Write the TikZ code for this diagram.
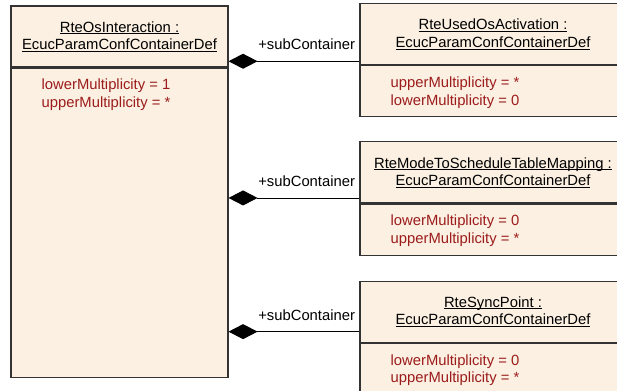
\documentclass[tikz,border=0pt]{standalone}
\usepackage{fontspec}
\setmainfont{Liberation Sans}
\usetikzlibrary{positioning, arrows.meta, calc}
\definecolor{classfill}{HTML}{FBF0E2}
\definecolor{classline}{HTML}{333333}
\definecolor{attrred}{HTML}{9C1C1C}
\newcommand{\classtitle}[1]{\underline{\raisebox{0pt}[\height][0pt]{#1}}}

\begin{document}
\begin{tikzpicture}[
    x=1pt, y=1pt,
    font=\fontsize{14.8}{17.5}\selectfont,
    node distance=24pt,
    classhead/.style={
      rectangle, draw=classline, line width=1.1pt,
      fill=classfill, align=center,
      minimum height=61pt, inner sep=0pt
    },
    classbody/.style={
      rectangle, draw=classline, line width=1.1pt,
      fill=classfill, inner sep=0pt
    },
    attr/.style={align=left, text=attrred, inner sep=0pt},
    comp/.style={-{Diamond[length=29pt, width=15pt]}, line width=0.9pt, draw=black},
    sublabel/.style={anchor=south east, inner sep=0pt, xshift=-4pt, yshift=11pt}
  ]
  \useasboundingbox (0,0) rectangle (617,-390);
  \clip (0,0) rectangle (617,-390);
  % Contenedor principal
  \node[classhead, minimum width=217pt] (osint) at (119.5,-36.5)
    {\classtitle{RteOsInteraction :}\\\classtitle{EcucParamConfContainerDef}};
  \node[classbody, minimum width=217pt, minimum height=309pt, below=0pt of osint] (osintbody) {};
  \node[attr, below right=11.5pt and 31pt of osintbody.north west] (osintattr)
    {lowerMultiplicity = 1\\upperMultiplicity = *};
  % Sub-contenedor 1
  \node[classhead, minimum width=266pt] (usedhead) at (493,-34.25)
    {\classtitle{RteUsedOsActivation :}\\\classtitle{EcucParamConfContainerDef}};
  \node[classbody, minimum width=266pt, minimum height=51pt, below=0pt of usedhead] (usedbody) {};
  \node[attr, below right=11.5pt and 31pt of usedbody.north west] (usedattr)
    {upperMultiplicity = *\\lowerMultiplicity = 0};
  % Sub-contenedor 2
  \node[classhead, minimum width=266pt, below=of usedbody] (modehead)
    {\classtitle{RteModeToScheduleTableMapping :}\\\classtitle{EcucParamConfContainerDef}};
  \node[classbody, minimum width=266pt, minimum height=51pt, below=0pt of modehead] (modebody) {};
  \node[attr, below right=11.5pt and 31pt of modebody.north west] (modeattr)
    {lowerMultiplicity = 0\\upperMultiplicity = *};
  % Sub-contenedor 3
  \node[classhead, minimum width=266pt, below=25pt of modebody] (synchead)
    {\classtitle{RteSyncPoint :}\\\classtitle{EcucParamConfContainerDef}};
  \node[classbody, minimum width=266pt, minimum height=51pt, below=0pt of synchead] (syncbody) {};
  \node[attr, below right=11.5pt and 31pt of syncbody.north west] (syncattr)
    {lowerMultiplicity = 0\\upperMultiplicity = *};
  % Composiciones
  \coordinate (jused) at ([yshift=-27pt]usedhead.west);
  \coordinate (jmode) at ([yshift=-25.5pt]modehead.west);
  \coordinate (jsync) at ([yshift=-20pt]synchead.west);
  \draw[comp] (jused) node[sublabel] {+subContainer} -- (jused -| osint.east);
  \draw[comp] (jmode) node[sublabel] {+subContainer} -- (jmode -| osint.east);
  \draw[comp] (jsync) node[sublabel] {+subContainer} -- (jsync -| osint.east);
\end{tikzpicture}
\end{document}
